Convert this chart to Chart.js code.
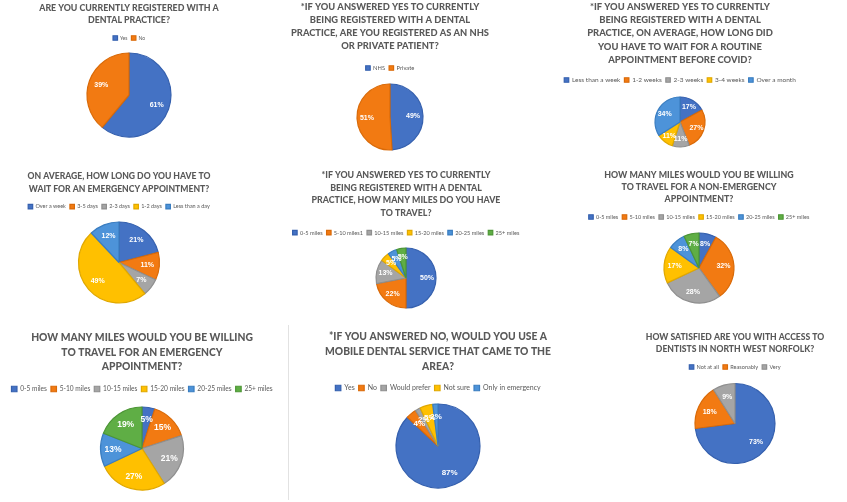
<!DOCTYPE html>
<html>
<head>
<meta charset="utf-8">
<script src="https://cdn.jsdelivr.net/npm/chart.js@4"></script>
<style>
  html, body { margin: 0; padding: 0; background: #fff; }
  body { width: 847px; height: 502px; position: relative; overflow: hidden; }
  canvas { position: absolute; }
  .sep { position: absolute; left: 288px; top: 325px; width: 1px; height: 175px; background: #e2e2e2; }
</style>
</head>
<body>
<div class="sep"></div>
<canvas id="c1"></canvas><canvas id="c2"></canvas><canvas id="c3"></canvas>
<canvas id="c4"></canvas><canvas id="c5"></canvas><canvas id="c6"></canvas>
<canvas id="c7"></canvas><canvas id="c8"></canvas><canvas id="c9"></canvas>
<script>
// survey answers, percentages as shown on the slices
const q1Labels = ['Yes', 'No'];
const q1Values = [61, 39];
const q2Labels = ['NHS', 'Private'];
const q2Values = [49, 51];
const q3Labels = ['Less than a week', '1-2 weeks', '2-3 weeks', '3-4 weeks', 'Over a month'];
const q3Values = [17, 27, 11, 11, 34];
const q4Labels = ['Over a week', '3-5 days', '2-3 days', '1-2 days', 'Less than a day'];
const q4Values = [21, 11, 7, 49, 12];
const q5Labels = ['0-5 miles', '5-10 miles1', '10-15 miles', '15-20 miles', '20-25 miles', '25+ miles'];
const q5Values = [50, 22, 13, 5, 5, 5];
const milesLabels = ['0-5 miles', '5-10 miles', '10-15 miles', '15-20 miles', '20-25 miles', '25+ miles'];
const q6Values = [8, 32, 28, 17, 8, 7];
const q7Values = [5, 15, 21, 27, 13, 19];
const q8Labels = ['Yes', 'No', 'Would prefer', 'Not sure', 'Only in emergency'];
const q8Values = [87, 4, 2, 5, 2];
const q9Labels = ['Not at all', 'Reasonably', 'Very'];
const q9Values = [73, 18, 9];

const q1Title = ['ARE YOU CURRENTLY REGISTERED WITH A', 'DENTAL PRACTICE?'];
const q2Title = ['*IF YOU ANSWERED YES TO CURRENTLY', 'BEING REGISTERED WITH A DENTAL', 'PRACTICE, ARE YOU REGISTERED AS AN NHS', 'OR PRIVATE PATIENT?'];
const q3Title = ['*IF YOU ANSWERED YES TO CURRENTLY', 'BEING REGISTERED WITH A DENTAL', 'PRACTICE, ON AVERAGE, HOW LONG DID', 'YOU HAVE TO WAIT FOR A ROUTINE', 'APPOINTMENT BEFORE COVID?'];
const q4Title = ['ON AVERAGE, HOW LONG DO YOU HAVE TO', 'WAIT FOR AN EMERGENCY APPOINTMENT?'];
const q5Title = ['*IF YOU ANSWERED YES TO CURRENTLY', 'BEING REGISTERED WITH A DENTAL', 'PRACTICE, HOW MANY MILES DO YOU HAVE', 'TO TRAVEL?'];
const q6Title = ['HOW MANY MILES WOULD YOU BE WILLING', 'TO TRAVEL FOR A NON-EMERGENCY', 'APPOINTMENT?'];
const q7Title = ['HOW MANY MILES WOULD YOU BE WILLING', 'TO TRAVEL FOR AN EMERGENCY', 'APPOINTMENT?'];
const q8Title = ['*IF YOU ANSWERED NO, WOULD YOU USE A', 'MOBILE DENTAL SERVICE THAT CAME TO THE', 'AREA?'];
const q9Title = ['HOW SATISFIED ARE YOU WITH ACCESS TO', 'DENTISTS IN NORTH WEST NORFOLK?'];

const palette = ['#4472C4', '#F27A12', '#A5A5A5', '#FFC000', '#4D93D9', '#5FAE45'];
const edges = ['#3560AE', '#D96A08', '#8F8F8F', '#E0A800', '#3A7DC0', '#4D9636'];

const sliceLabels = {
  id: 'sliceLabels',
  afterDatasetsDraw(chart, args, opts) {
    const ctx = chart.ctx;
    const meta = chart.getDatasetMeta(0);
    const vals = chart.data.datasets[0].data;
    ctx.save();
    ctx.fillStyle = '#fff';
    ctx.font = 'bold ' + opts.size + 'px "Liberation Sans", Arial, sans-serif';
    ctx.textAlign = 'center';
    ctx.textBaseline = 'middle';
    meta.data.forEach((arc, i) => {
      const p = arc.getProps(['x', 'y', 'startAngle', 'endAngle', 'outerRadius'], true);
      const mid = (p.startAngle + p.endAngle) / 2;
      const d = p.outerRadius * opts.at;
      ctx.fillText(vals[i] + '%', p.x + Math.cos(mid) * d, p.y + Math.sin(mid) * d);
    });
    ctx.restore();
  }
};

function pie(id, labels, values, title, s) {
  const W = 400;
  const el = document.getElementById(id);
  el.style.left = (s.cx - W / 2) + 'px';
  el.style.top = s.top + 'px';
  el.width = W;
  el.height = s.h;

  // work out where the title/legend end so the pie sits where it should
  const padTop = s.first - s.lh / 2;
  const titleEnd = padTop + title.length * s.lh;
  const legPad = 4;
  const padBottom = Math.max(s.legY - s.legSize / 2 - legPad - titleEnd, 0);
  const areaTop = titleEnd + padBottom + s.legSize + legPad + 10;
  const layoutBottom = s.h - (2 * s.cy - areaTop);

  new Chart(el, {
    type: 'pie',
    data: {
      labels: labels,
      datasets: [{
        data: values,
        backgroundColor: palette.slice(0, values.length),
        borderColor: edges.slice(0, values.length),
        borderWidth: 1.2,
        radius: s.r
      }]
    },
    options: {
      responsive: false,
      animation: false,
      layout: { padding: { top: 0, bottom: layoutBottom, left: 0, right: 0 } },
      plugins: {
        title: {
          display: true,
          text: title,
          color: '#595959',
          font: { family: 'Lato', weight: '900', size: s.tSize, lineHeight: s.lh / s.tSize },
          padding: { top: padTop, bottom: padBottom }
        },
        legend: {
          position: 'top',
          labels: {
            color: '#595959',
            font: { family: 'Lato', size: s.legSize },
            boxWidth: s.box || 4.5,
            boxHeight: s.box || 4.5,
            padding: legPad
          }
        },
        tooltip: { enabled: false },
        sliceLabels: { size: s.label || 7, at: 0.7 }
      }
    },
    plugins: [sliceLabels]
  });
}

pie('c1', q1Labels, q1Values, q1Title, { cx: 129, top: 0, h: 160, tSize: 8.8, lh: 12, first: 8, legSize: 5, legY: 38, cy: 95, r: 42 });
pie('c2', q2Labels, q2Values, q2Title, { cx: 390, top: 0, h: 160, tSize: 9.3, lh: 13, first: 7, legSize: 5.8, legY: 68, cy: 117, r: 33 });
pie('c3', q3Labels, q3Values, q3Title, { cx: 680, top: 0, h: 160, tSize: 9.4, lh: 13.2, first: 7, legSize: 6.5, legY: 80, cy: 122, r: 25 });
pie('c4', q4Labels, q4Values, q4Title, { cx: 118.5, top: 160, h: 160, tSize: 8.6, lh: 12.6, first: 16.7, legSize: 5.5, legY: 46.7, cy: 102.5, r: 40.5 });
pie('c5', q5Labels, q5Values, q5Title, { cx: 406, top: 160, h: 160, tSize: 8.8, lh: 12.8, first: 15, legSize: 5.6, legY: 72.7, cy: 118, r: 30 });
pie('c6', milesLabels, q6Values, q6Title, { cx: 698.5, top: 160, h: 160, tSize: 8.8, lh: 12.2, first: 15, legSize: 5.5, legY: 57, cy: 108, r: 35 });
pie('c7', milesLabels, q7Values, q7Title, { cx: 141.5, top: 320, h: 182, tSize: 10.3, lh: 14.5, first: 18, legSize: 6.6, legY: 69, cy: 128.5, r: 41.5, label: 8.5, box: 5.5 });
pie('c8', q8Labels, q8Values, q8Title, { cx: 437.5, top: 320, h: 182, tSize: 10.3, lh: 15, first: 17, legSize: 7, legY: 68, cy: 126, r: 42, label: 8, box: 5.5 });
pie('c9', q9Labels, q9Values, q9Title, { cx: 735, top: 320, h: 182, tSize: 8.6, lh: 12.5, first: 17, legSize: 5.6, legY: 47, cy: 103.5, r: 40 });
</script>
</body>
</html>
